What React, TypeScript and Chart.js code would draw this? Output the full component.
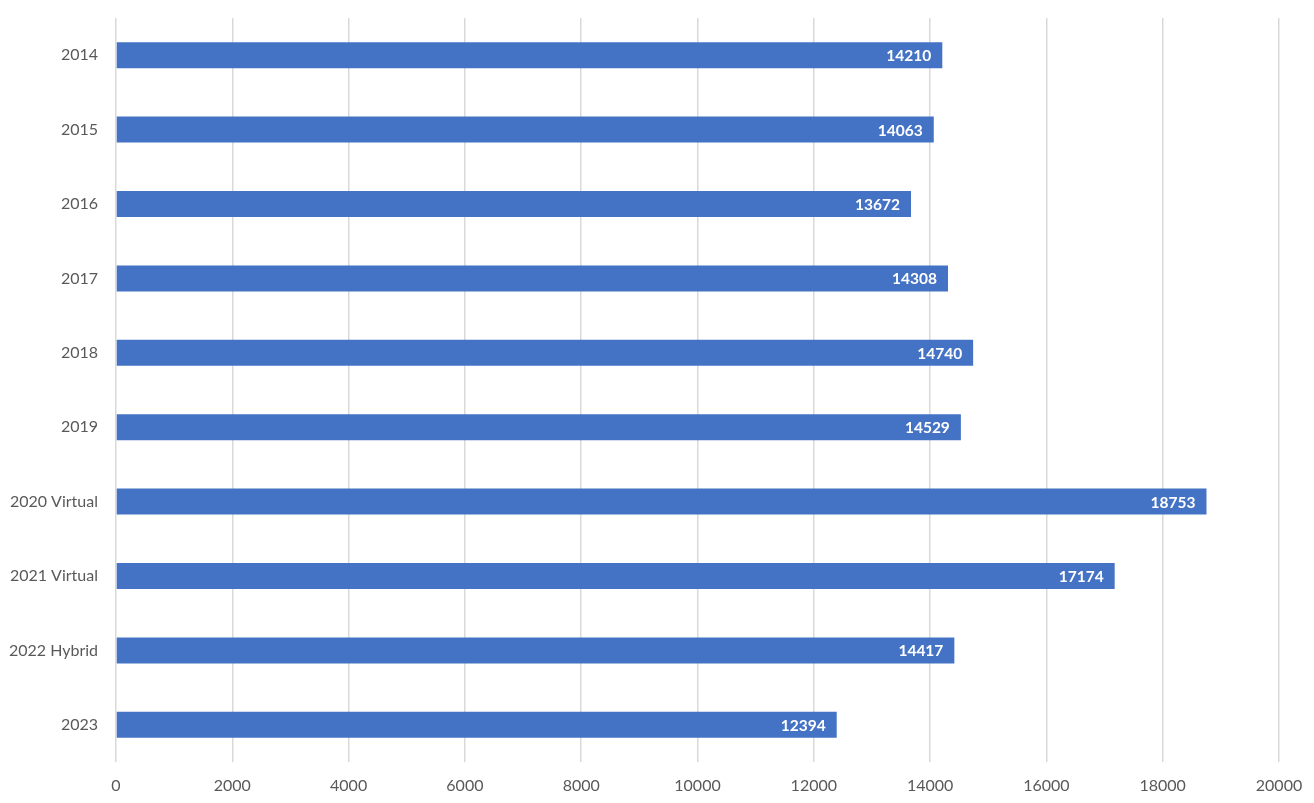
import React, { useEffect, useRef } from "react";
import { Chart, registerables } from "chart.js";

Chart.register(...registerables);

const categories = ["2014", "2015", "2016", "2017", "2018", "2019", "2020 Virtual", "2021 Virtual", "2022 Hybrid", "2023"];
const attendance = [14210, 14063, 13672, 14308, 14740, 14529, 18753, 17174, 14417, 12394];
const xMin = 0;
const xMax = 20000;
const xStep = 2000;

const FONT = "Lato, 'Open Sans', sans-serif";

const valueLabels = {
  id: "valueLabels",
  afterDatasetsDraw(chart: any) {
    const { ctx } = chart;
    const meta = chart.getDatasetMeta(0);
    ctx.save();
    ctx.fillStyle = "#ffffff";
    ctx.font = `bold 15.5px ${FONT}`;
    ctx.textAlign = "right";
    ctx.textBaseline = "middle";
    meta.data.forEach((bar: any, i: number) => {
      ctx.fillText(String(attendance[i]), bar.x - 11, bar.y + 1);
    });
    ctx.restore();
  },
};

export default function App() {
  const ref = useRef<HTMLCanvasElement | null>(null);
  useEffect(() => {
    if (!ref.current) return;
    const chart = new Chart(ref.current, {
      type: "bar",
      data: {
        labels: categories,
        datasets: [
          {
            data: attendance,
            backgroundColor: "#4472C4",
            borderWidth: 0,
            barPercentage: 0.35,
            categoryPercentage: 1,
          },
        ],
      },
      options: {
        indexAxis: "y",
        animation: false,
        responsive: false,
        maintainAspectRatio: false,
        layout: { padding: { top: 18, right: 35, bottom: 0, left: 0 } },
        plugins: { legend: { display: false }, tooltip: { enabled: false } },
        scales: {
          x: {
            min: xMin,
            max: xMax,
            ticks: {
              stepSize: xStep,
              color: "#595959",
              font: { family: FONT, size: 16 },
              padding: 14,
              maxRotation: 0,
              callback: (v: any) => String(v),
            },
            grid: { color: "#d9d9d9", lineWidth: 1.5, drawTicks: false },
            border: { display: false },
            afterFit: (s: any) => {
              s.height = 41;
              s.paddingLeft = 0;
              s.paddingRight = 0;
            },
          },
          y: {
            ticks: {
              color: "#595959",
              font: { family: FONT, size: 16 },
              padding: 18,
            },
            grid: { display: false, drawTicks: false },
            border: { display: false },
            afterFit: (s: any) => {
              s.width = 116;
              s.paddingTop = 0;
              s.paddingBottom = 0;
            },
          },
        },
      },
      plugins: [valueLabels],
    });
    return () => chart.destroy();
  }, []);
  return (
    <div style={{ position: "fixed", left: 0, top: 0, width: 1314, height: 803, background: "#fff" }}>
      <canvas ref={ref} width={1314} height={803} />
    </div>
  );
}
